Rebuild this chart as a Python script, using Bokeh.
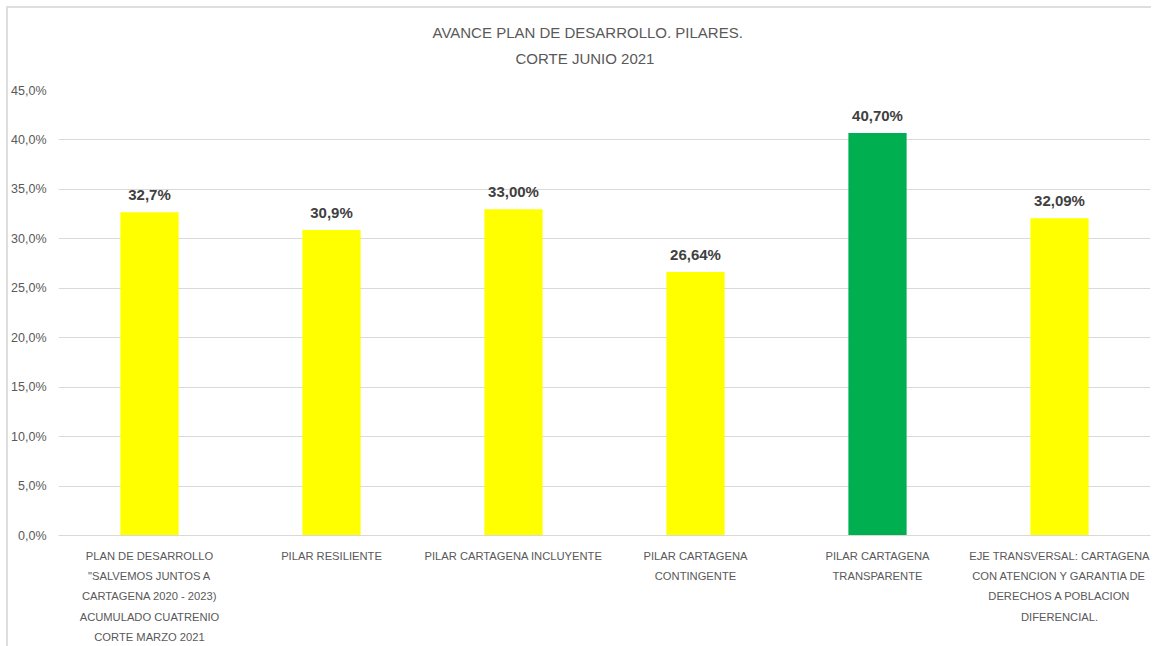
from bokeh.plotting import figure
from bokeh.models import FactorRange, Range1d, FixedTicker, ColumnDataSource, Title
from bokeh.core.properties import value
from bokeh.embed import file_html
from bokeh.resources import INLINE

categories = [
    "PLAN DE DESARROLLO\n\"SALVEMOS JUNTOS A\nCARTAGENA 2020 - 2023)\nACUMULADO CUATRENIO\nCORTE MARZO 2021",
    "PILAR RESILIENTE",
    "PILAR CARTAGENA INCLUYENTE",
    "PILAR CARTAGENA\nCONTINGENTE",
    "PILAR CARTAGENA\nTRANSPARENTE",
    "EJE TRANSVERSAL: CARTAGENA\nCON ATENCION Y GARANTIA DE\nDERECHOS A POBLACION\nDIFERENCIAL.",
]
values = [32.7, 30.9, 33.0, 26.64, 40.70, 32.09]
value_labels = ["32,7%", "30,9%", "33,00%", "26,64%", "40,70%", "32,09%"]
bar_colors = ["#FFFF00", "#FFFF00", "#FFFF00", "#FFFF00", "#00B050", "#FFFF00"]
y_ticks = [0, 5, 10, 15, 20, 25, 30, 35, 40, 45]
y_tick_labels = ["0,0%", "5,0%", "10,0%", "15,0%", "20,0%", "25,0%", "30,0%", "35,0%", "40,0%", "45,0%"]
title_lines = ["AVANCE PLAN DE DESARROLLO. PILARES.", "CORTE JUNIO  2021"]

FONT = "Liberation Sans"

src = ColumnDataSource(dict(cat=categories, val=values, lab=value_labels, col=bar_colors))

p = figure(
    frame_width=1092, frame_height=445,
    x_range=FactorRange(factors=categories, range_padding=0),
    y_range=Range1d(0, 45),
    output_backend="svg", toolbar_location=None,
    min_border_left=50, min_border_right=1, min_border_top=82, min_border_bottom=103,
)
p.styles = {"margin-left": "6px", "margin-top": "6px",
            "border-left": "2px solid #dedede", "border-top": "2px solid #dedede"}
p.outline_line_color = None
p.background_fill_color = "white"
p.border_fill_color = "white"

# second title line sits nearest the plot, first line above it
p.add_layout(Title(text=title_lines[1], align="left", offset=457, standoff=48,
                   text_font=FONT, text_font_size="15px", text_font_style="normal",
                   text_color="#595959"), "above")
p.add_layout(Title(text=title_lines[0], align="left", offset=374, standoff=-35,
                   text_font=FONT, text_font_size="15px", text_font_style="normal",
                   text_color="#595959"), "above")

p.vbar(x="cat", top="val", width=0.32, fill_color="col", line_color=None, source=src)
p.text(x="cat", y="val", text="lab", source=src, text_align="center", text_baseline="bottom",
       y_offset=-9, text_font=value(FONT), text_font_size="15px", text_font_style="bold",
       text_color="#404040")

p.xgrid.grid_line_color = None
p.ygrid.grid_line_color = "#d9d9d9"
p.ygrid.ticker = FixedTicker(ticks=y_ticks)

p.yaxis.ticker = FixedTicker(ticks=y_ticks)
p.yaxis.major_label_overrides = {t: l for t, l in zip(y_ticks, y_tick_labels)}
p.yaxis.axis_line_color = None
p.yaxis.major_tick_line_color = None
p.yaxis.minor_tick_line_color = None
p.yaxis.major_label_text_font = FONT
p.yaxis.major_label_text_font_size = "12.5px"
p.yaxis.major_label_text_color = "#595959"
p.yaxis.major_label_standoff = 6

p.xaxis.axis_line_color = "#d9d9d9"
p.xaxis.major_tick_line_color = None
p.xaxis.minor_tick_line_color = None
p.xaxis.major_label_text_font = FONT
p.xaxis.major_label_text_font_size = "11.2px"
p.xaxis.major_label_text_color = "#595959"
p.xaxis.major_label_text_line_height = 1.7
p.xaxis.major_label_standoff = 8
p.xaxis.major_label_orientation = "horizontal"

open("out.html", "w").write(file_html(p, INLINE))
